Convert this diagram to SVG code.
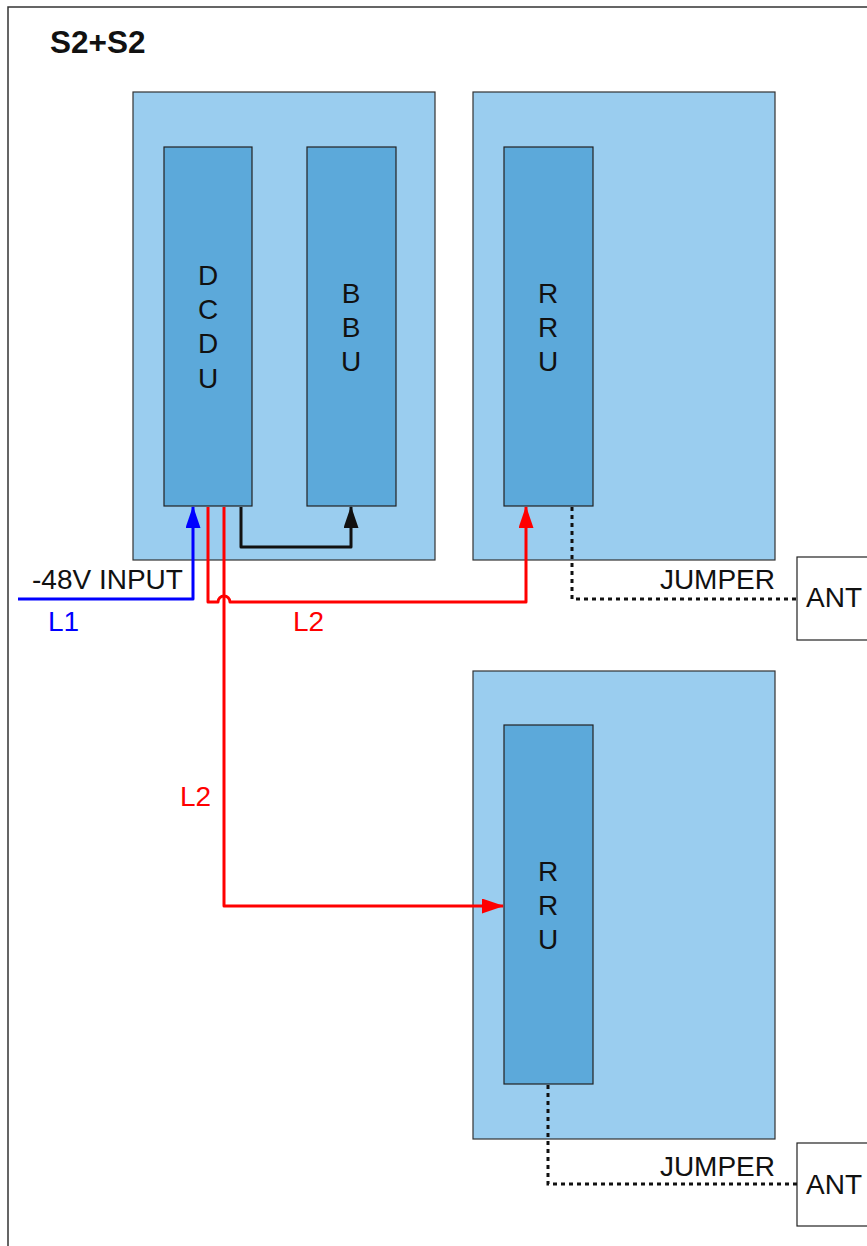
<svg xmlns="http://www.w3.org/2000/svg" width="867" height="1246" viewBox="0 0 867 1246">
<style>
.cab{fill:#9acdef;stroke:#333;stroke-width:1.2}
.mod{fill:#5ca9da;stroke:#222;stroke-width:1.2}
.ant{fill:#fff;stroke:#222;stroke-width:1.2}
text{font-family:"Liberation Sans",Arial,sans-serif;font-size:28px;fill:#111}
.v{text-anchor:middle}
.w{fill:none;stroke-width:3;stroke-linejoin:round}
.red{stroke:#ff0000}
.blue{stroke:#0000ff}
.blk{stroke:#111}
.dot{fill:none;stroke:#111;stroke-width:3;stroke-dasharray:4 4}
</style>
<defs>
<marker id="ar" viewBox="0 0 22 15" refX="21" refY="7.5" markerWidth="22" markerHeight="15" orient="auto" markerUnits="userSpaceOnUse"><path d="M0,0L22,7.5L0,15z" fill="#ff0000"/></marker>
<marker id="ab" viewBox="0 0 22 15" refX="21" refY="7.5" markerWidth="22" markerHeight="15" orient="auto" markerUnits="userSpaceOnUse"><path d="M0,0L22,7.5L0,15z" fill="#0000ff"/></marker>
<marker id="ak" viewBox="0 0 22 15" refX="21" refY="7.5" markerWidth="22" markerHeight="15" orient="auto" markerUnits="userSpaceOnUse"><path d="M0,0L22,7.5L0,15z" fill="#111"/></marker>
</defs>
<rect x="8" y="7" width="880" height="1260" fill="#fff" stroke="#333" stroke-width="1.5"/>
<text x="50" y="53" style="font-weight:bold;font-size:31.5px">S2+S2</text>
<g id="cabinet1"><rect class="cab" x="133" y="92" width="302" height="468"/></g>
<g id="cabinet2"><rect class="cab" x="473" y="92" width="302" height="468"/></g>
<g id="cabinet3"><rect class="cab" x="473" y="671" width="302" height="468"/></g>
<g id="dcdu"><rect class="mod" x="164" y="147" width="88" height="359"/>
<text class="v" x="208" y="285">D</text><text class="v" x="208" y="319">C</text><text class="v" x="208" y="353">D</text><text class="v" x="208" y="388">U</text></g>
<g id="bbu"><rect class="mod" x="307" y="147" width="89" height="359"/>
<text class="v" x="351" y="303">B</text><text class="v" x="351" y="337">B</text><text class="v" x="351" y="371">U</text></g>
<g id="rru1"><rect class="mod" x="504" y="147" width="89" height="359"/>
<text class="v" x="548" y="303">R</text><text class="v" x="548" y="337">R</text><text class="v" x="548" y="371">U</text></g>
<g id="rru2"><rect class="mod" x="504" y="725" width="89" height="359"/>
<text class="v" x="548" y="881">R</text><text class="v" x="548" y="915">R</text><text class="v" x="548" y="949">U</text></g>
<g id="ant1"><rect class="ant" x="797" y="557" width="90" height="83"/><text x="806" y="607">ANT</text></g>
<g id="ant2"><rect class="ant" x="797" y="1143" width="90" height="83"/><text x="806" y="1194">ANT</text></g>
<g id="connectors">
<path class="w blue" d="M18,599H193V507" marker-end="url(#ab)"/>
<path class="w red" d="M208,507V602H218A6,6 0 0 1 230,602H526V507" marker-end="url(#ar)"/>
<path class="w red" d="M224,507V906H503" marker-end="url(#ar)"/>
<path class="w blk" d="M241,507V547H351V507" marker-end="url(#ak)"/>
<path class="dot" d="M572,507V599H797"/>
<path class="dot" d="M548,1085V1184H797"/>
</g>
<text x="32" y="589">-48V INPUT</text>
<text x="48" y="631" style="fill:#0000ff">L1</text>
<text x="293" y="631" style="fill:#ff0000">L2</text>
<text x="180" y="806" style="fill:#ff0000">L2</text>
<text x="775" y="589" text-anchor="end">JUMPER</text>
<text x="775" y="1176" text-anchor="end">JUMPER</text>
</svg>
